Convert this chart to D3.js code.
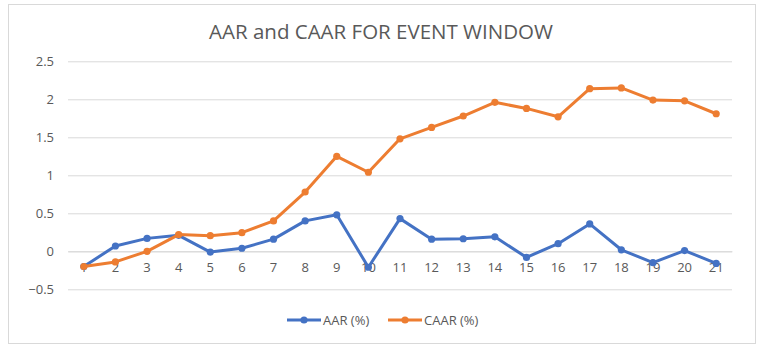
<!DOCTYPE html>
<html>
<head>
<meta charset="utf-8">
<script src="https://cdn.jsdelivr.net/npm/d3@7"></script>
<style>
  body { margin: 0; background: #fff; }
  text { font-family: "Open Sans", "Liberation Sans", sans-serif; }
</style>
</head>
<body>
<script>
const days = ['1','2','3','4','5','6','7','8','9','10','11','12','13','14','15','16','17','18','19','20','21'];
const aar = [-0.20, 0.07, 0.17, 0.21, -0.01, 0.04, 0.16, 0.40, 0.48, -0.21, 0.43, 0.16, 0.165, 0.19, -0.08, 0.10, 0.36, 0.02, -0.15, 0.01, -0.16];
const caar = [-0.20, -0.14, 0.00, 0.22, 0.205, 0.245, 0.40, 0.78, 1.25, 1.04, 1.48, 1.63, 1.78, 1.96, 1.88, 1.77, 2.14, 2.15, 1.99, 1.98, 1.81];
const yTicks = [-0.5, 0, 0.5, 1, 1.5, 2, 2.5];
const seriesNames = ['AAR (%)', 'CAAR (%)'];
const colors = ['#4472C4', '#ED7D31'];

const w = 762;
const h = 353;
const plotL = 68, plotR = 732, plotT = 61.3, plotB = 289.3;

const svg = d3.select('body').append('svg')
  .attr('width', w)
  .attr('height', h);

// chart frame
svg.append('rect')
  .attr('x', 8.5).attr('y', 4.5)
  .attr('width', 747).attr('height', 339)
  .attr('fill', '#fff')
  .attr('stroke', '#d9d9d9');

svg.append('text')
  .attr('x', 381).attr('y', 39)
  .attr('text-anchor', 'middle')
  .attr('font-size', 20.5)
  .attr('fill', '#595959')
  .text('AAR and CAAR FOR EVENT WINDOW');

const x = d3.scaleBand().domain(days).range([plotL, plotR]);
const y = d3.scaleLinear().domain([-0.5, 2.5]).range([plotB, plotT]);

// gridlines + y labels
const yAxis = d3.axisLeft(y).tickValues(yTicks).tickSize(-(plotR - plotL)).tickFormat(d3.format('')).tickPadding(14);
const gy = svg.append('g')
  .attr('transform', 'translate(' + plotL + ',0)')
  .call(yAxis);
gy.select('.domain').remove();
gy.selectAll('line').attr('stroke', '#d9d9d9');
gy.selectAll('text').attr('fill', '#595959').attr('font-size', 13).attr('font-family', '"Open Sans", sans-serif');

// x axis sits at zero
const xAxis = d3.axisBottom(x).tickSize(0).tickPadding(11);
const gx = svg.append('g')
  .attr('transform', 'translate(0,' + y(0) + ')')
  .call(xAxis);
gx.select('.domain').attr('stroke', '#d9d9d9');
gx.selectAll('text').attr('fill', '#595959').attr('font-size', 13).attr('font-family', '"Open Sans", sans-serif');

const cx = (d, i) => x(days[i]) + x.bandwidth() / 2;
const line = d3.line().x(cx).y((d) => y(d));

[aar, caar].forEach((vals, k) => {
  svg.append('path')
    .datum(vals)
    .attr('fill', 'none')
    .attr('stroke', colors[k])
    .attr('stroke-width', 3)
    .attr('stroke-linejoin', 'round')
    .attr('d', line);
  svg.append('g').selectAll('circle')
    .data(vals)
    .join('circle')
    .attr('cx', cx)
    .attr('cy', (d) => y(d))
    .attr('r', 3.6)
    .attr('fill', colors[k]);
});

// legend
const legendX = [287, 388];
seriesNames.forEach((name, k) => {
  const g = svg.append('g').attr('transform', 'translate(' + legendX[k] + ',320)');
  g.append('line').attr('x1', 0).attr('x2', 34).attr('stroke', colors[k]).attr('stroke-width', 3);
  g.append('circle').attr('cx', 17).attr('r', 3.6).attr('fill', colors[k]);
  g.append('text').attr('x', 36).attr('y', 4.5)
    .attr('font-size', 13).attr('fill', '#595959').text(name);
});
</script>
</body>
</html>
